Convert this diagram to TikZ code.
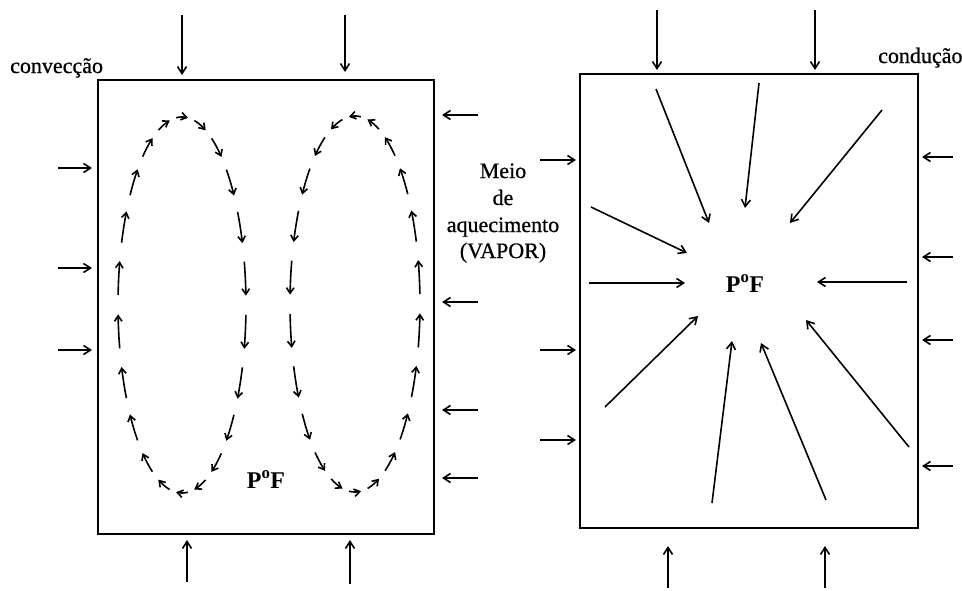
\documentclass[tikz,border=0pt]{standalone}
\usepackage{fontspec}
\setmainfont{Liberation Serif}
\newfontfamily\heavyserif{Liberation Serif}[FakeBold=0.7]
\usetikzlibrary{arrows.meta}
\begin{document}
\begin{tikzpicture}[x=1pt,y=-1pt,
  arr/.style={line width=1.6pt,-{Straight Barb[length=7pt,width=9pt]}},
  earr/.style={line width=1.6pt,-{Straight Barb[length=5.5pt,width=7.5pt]}},
  box/.style={line width=2.6pt},
  lbl/.style={font=\heavyserif\fontsize{22}{27}\selectfont, inner sep=0pt},
  pf/.style={font=\fontsize{24}{26}\selectfont\bfseries, inner sep=0pt}]
\useasboundingbox (0,0) rectangle (962,590);

% boxes
\draw[box] (98,80) rectangle (434,534);
\draw[box] (580,74) rectangle (918,528);

% labels
\node[lbl, anchor=base west] (conv) at (10,73) {convecção};
\node[lbl, anchor=base west] (cond) at (878,63) {condução};
\node[lbl, anchor=base] (m1) at (503,178) {Meio};
\node[lbl, anchor=base] (m2) at (503,205) {de};
\node[lbl, anchor=base] (m3) at (503,232) {aquecimento};
\node[lbl, anchor=base] (m4) at (503,258) {(VAPOR)};
\node[pf, anchor=base] (pfl) at (266,488) {P\textsuperscript{o}F};
\node[pf, anchor=base] (pfr) at (745,292) {P\textsuperscript{o}F};

% outer arrows, left box
\draw[arr] (182,15) -- (182,75);
\draw[arr] (345,15) -- (345,72);
\draw[arr] (187,582) -- (187,540);
\draw[arr] (350,584) -- (350,540);
\foreach \y in {168,268,350} \draw[arr] (58,\y) -- (92,\y);
\foreach \y in {115,302,410,478} \draw[arr] (478,\y) -- (442,\y);

% outer arrows, right box
\draw[arr] (657,10) -- (657,70);
\draw[arr] (815,10) -- (815,70);
\draw[arr] (668,588) -- (668,546);
\draw[arr] (825,588) -- (825,546);
\foreach \y in {160,350,440} \draw[arr] (540,\y) -- (576,\y);
\foreach \y in {157,257,340,466} \draw[arr] (953,\y) -- (922,\y);

% radial arrows, right box
\coordinate (c) at (745,283);
\draw[arr] (656,89) -- (709,223);
\draw[arr] (759,83) -- (745,208);
\draw[arr] (882,110) -- (790,223);
\draw[arr] (591,207) -- (687,253);
\draw[arr] (589,283) -- (685,283);
\draw[arr] (907,282) -- (817,282);
\draw[arr] (605,407) -- (698,316);
\draw[arr] (712,503) -- (732,341);
\draw[arr] (826,500) -- (761,343);
\draw[arr] (909,447) -- (806,320);

% convection loops (left: clockwise, right: counter-clockwise)
\foreach \i in {0,...,21} {
  \pgfmathsetmacro{\a}{\i*16.3636+3}
  \pgfmathsetmacro{\b}{\a+10.5}
  \draw[earr] plot[domain=\a:\b, samples=6, smooth] ({182+64*cos(\x)},{305+188*sin(\x)});
  \pgfmathsetmacro{\c}{\i*16.3636+180-3}
  \pgfmathsetmacro{\d}{\c-10.5}
  \draw[earr] plot[domain=\c:\d, samples=6, smooth] ({355+65*cos(\x)},{304+188*sin(\x)});
}
\end{tikzpicture}
\end{document}
